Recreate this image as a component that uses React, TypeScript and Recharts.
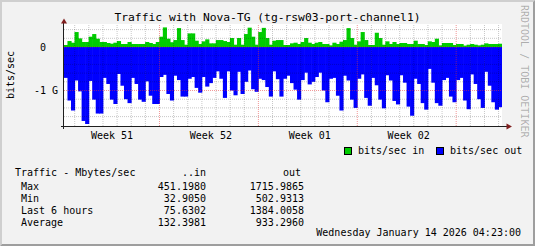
import { BarChart, Bar, XAxis, YAxis, ReferenceLine } from "recharts";

// 6-hour slots over 31 days: Mbit/s in, Gbit/s out (drawn negative)
const inMbit = [
  46, 137, 99, 344, 198, 115, 115, 237, 298, 191, 115, 115, 92, 76, 99, 137, 69, 69, 115, 69,
  69, 69, 69, 115, 92, 69, 115, 237, 451, 191, 110, 160, 435, 160, 53, 313, 313, 145, 69, 130,
  176, 84, 84, 160, 160, 137, 115, 206, 53, 206, 53, 298, 445, 237, 53, 344, 440, 206, 53, 145,
  160, 160, 46, 46, 84, 99, 69, 115, 206, 99, 69, 99, 115, 69, 69, 38, 99, 69, 122, 160,
  435, 206, 53, 130, 344, 160, 46, 46, 328, 206, 53, 130, 69, 115, 69, 92, 92, 69, 69, 145,
  69, 69, 46, 130, 115, 191, 38, 92, 92, 92, 46, 69, 69, 33, 53, 69, 53, 38, 53, 84,
  69, 69, 69, 75.6,
];

const outGbit = [
  0.71, 1.23, 1.46, 0.77, 1.02, 1.7, 1.77, 0.78, 1.21, 1.53, 1.53, 0.71, 0.85, 1.21, 1.31, 0.62, 0.89, 1.2, 1.29, 0.71,
  0.85, 1.21, 1.26, 0.79, 1.12, 1.31, 1.31, 0.69, 0.64, 1.08, 1.23, 0.66, 0.76, 1.14, 1.14, 0.73, 0.69, 0.94, 1.05, 0.69,
  0.91, 0.83, 0.71, 0.56, 0.73, 1.17, 0.56, 1.0, 1.11, 0.57, 1.08, 0.8, 0.54, 0.97, 1.03, 0.73, 0.76, 0.92, 1.14, 0.56,
  0.74, 1.14, 0.73, 0.66, 0.83, 0.98, 1.21, 0.76, 0.59, 0.86, 0.8, 0.69, 0.59, 1.0, 1.27, 0.73, 0.71, 1.12, 1.46, 0.66,
  0.77, 1.21, 1.4, 0.73, 0.63, 1.17, 1.35, 0.71, 0.88, 1.21, 1.41, 0.65, 0.77, 1.24, 1.32, 0.65, 0.82, 1.37, 1.58, 0.73,
  0.85, 1.29, 1.44, 0.503, 0.82, 1.29, 1.35, 0.76, 0.71, 1.14, 1.27, 0.76, 0.71, 1.23, 1.43, 0.63, 0.85, 1.2, 1.4, 0.57,
  0.89, 1.27, 1.44, 1.384,
];

const slotHours = 6;
const spanHours = 744;

const yLabelValues = [0, -1e9];
const yLabels = ["   0  ", "  -1 G"];
const yMinorGrid = [0.4e9, 0.2e9, -0.2e9, -0.4e9, -0.6e9, -0.8e9, -1.2e9, -1.4e9, -1.6e9];
const yDomain = [-1.816e9, 0.529e9];

// hours since graph start
const firstMidnight = 18.2;
const weekStarts = [162.2, 330.2, 498.2, 666.2];
const weekLabelHours = [81.5, 249.5, 417.5, 585.5];
const weekLabels = ["Week 51", "Week 52", "Week 01", "Week 02"];

const statLabels = ["Max", "Min", "Last 6 hours", "Average"];
const statIn = ["451.1980", "32.9050", "75.6302", "132.3981"];
const statOut = ["1715.9865", "502.9313", "1384.0058", "933.2960"];

const rows = inMbit.map((v, i) => ({
  hour: i * slotHours + slotHours / 2,
  in: v * 1e6,
  out: -outGbit[i] * 1e9,
}));

const dayLines: number[] = [];
for (let h = firstMidnight; h < spanHours; h += 24) {
  if (!weekStarts.some(w => Math.abs(w - h) < 0.01)) dayLines.push(h);
}

const PLOT_W = 438;
const SLOT_W = (PLOT_W * slotHours) / spanHours;

const MONO = "DejaVu Sans Mono";
const GRID = "rgba(0,0,0,0.22)";
const MGRID = "rgba(230,50,50,0.5)";

// rrdtool areas have no gaps between steps: draw each slot at full slot width around its centre
function StepBar(props: any) {
  const { x, y, width, height, fill } = props;
  if (x == null || !height) return null;
  const cx = x + (width || 0) / 2;
  const top = Math.min(y, y + height);
  return (
    <rect
      x={cx - SLOT_W / 2 - 0.3}
      y={top}
      width={SLOT_W + 0.6}
      height={Math.abs(height)}
      fill={fill}
    />
  );
}

function YTick(props: any) {
  const { x, y, payload } = props;
  const label = yLabels[yLabelValues.indexOf(payload.value)] ?? "";
  return (
    <text x={x - 6} y={y + 3.6} textAnchor="end" fontFamily={MONO} fontSize={10} fill="#000"
      style={{ whiteSpace: "pre" }}>
      {label}
    </text>
  );
}

function WeekTick(props: any) {
  const { x, y, payload } = props;
  const label = weekLabels[weekLabelHours.indexOf(payload.value)] ?? "";
  return (
    <text x={x} y={y + 13} textAnchor="middle" fontFamily={MONO} fontSize={10} fill="#000">
      {label}
    </text>
  );
}

export default function App() {
  return (
    <div style={{ position: "absolute", left: 0, top: 0, width: 535, height: 246, background: "#F2F2F2" }}>
      <div style={{ position: "absolute", left: 0, top: 0 }}>
        <BarChart
          width={535}
          height={246}
          data={rows}
          margin={{ top: 24, right: 33, bottom: 90, left: 0 }}
          stackOffset="sign"
          barCategoryGap={0}
          barGap={0}
        >
          <rect x={64} y={24} width={PLOT_W} height={102} fill="#fff" />
          <XAxis
            dataKey="hour"
            type="number"
            domain={[0, spanHours]}
            allowDataOverflow
            ticks={weekLabelHours}
            interval={0}
            height={30}
            axisLine={false}
            tickLine={false}
            tickSize={0}
            tickMargin={0}
            tick={<WeekTick />}
          />
          <YAxis
            width={64}
            domain={yDomain}
            allowDataOverflow
            ticks={yLabelValues}
            interval={0}
            axisLine={false}
            tickLine={false}
            tickSize={0}
            tickMargin={0}
            tick={<YTick />}
          />
          <Bar dataKey="in" stackId="t" fill="#00CC00" shape={<StepBar />} isAnimationActive={false} />
          <Bar dataKey="out" stackId="t" fill="#0000FF" shape={<StepBar />} isAnimationActive={false} />
          {yMinorGrid.map(v => (
            <ReferenceLine key={"h" + v} y={v} stroke={GRID} strokeDasharray="1 1" />
          ))}
          {dayLines.map(d => (
            <ReferenceLine key={"d" + d} x={d} stroke={GRID} strokeDasharray="1 1" />
          ))}
          {yLabelValues.map(v => (
            <ReferenceLine key={"m" + v} y={v} stroke={MGRID} strokeDasharray="1 1" />
          ))}
          {weekStarts.map(d => (
            <ReferenceLine key={"w" + d} x={d} stroke={MGRID} strokeDasharray="1 1" />
          ))}
        </BarChart>
      </div>
      <svg width={535} height={246} style={{ position: "absolute", left: 0, top: 0, pointerEvents: "none" }}>
        {/* frame shading */}
        <polygon points="0,0 535,0 533,2 2,2 2,244 0,246" fill="#CFCFCF" />
        <polygon points="535,0 535,246 0,246 2,244 533,244 533,2" fill="#9E9E9E" />
        {/* axes */}
        <line x1={63.5} y1={21} x2={63.5} y2={129} stroke="#1F1F1F" />
        <line x1={61} y1={126.5} x2={507} y2={126.5} stroke="#1F1F1F" />
        <polygon points="61,23.5 67,23.5 64,18.5" fill="#801F1F" />
        <polygon points="506.5,123.5 506.5,129.5 512,126.5" fill="#801F1F" />
        {/* title */}
        <text x={267.5} y={20.5} textAnchor="middle" fontFamily={MONO} fontSize={11.3} fill="#000">
          Traffic with Nova-TG (tg-rsw03-port-channel1)
        </text>
        <text x={14} y={75} transform="rotate(-90 14 75)" textAnchor="middle" fontFamily={MONO} fontSize={10} fill="#000">
          bits/sec
        </text>
        <text x={521} y={5} transform="rotate(90 521 5)" fontFamily={MONO} fontSize={10} fill="rgba(0,0,0,0.3)">
          RRDTOOL / TOBI OETIKER
        </text>
        {/* legend */}
        <rect x={344.5} y={147.5} width={7} height={7} fill="#00CC00" stroke="#000" />
        <text x={358} y={154} fontFamily={MONO} fontSize={10} fill="#000">bits/sec in</text>
        <rect x={436.5} y={147.5} width={7} height={7} fill="#0000FF" stroke="#000" />
        <text x={450} y={154} fontFamily={MONO} fontSize={10} fill="#000">bits/sec out</text>
        {/* summary table */}
        <g fontFamily={MONO} fontSize={10} fill="#000">
          <text x={15} y={176}>Traffic - Mbytes/sec</text>
          <text x={206} y={176} textAnchor="end">..in</text>
          <text x={301} y={176} textAnchor="end">out</text>
          {statLabels.map((l, i) => (
            <g key={l}>
              <text x={21} y={189.5 + i * 12}>{l}</text>
              <text x={206} y={189.5 + i * 12} textAnchor="end">{statIn[i]}</text>
              <text x={304} y={189.5 + i * 12} textAnchor="end">{statOut[i]}</text>
            </g>
          ))}
          <text x={521} y={236} textAnchor="end">Wednesday January 14 2026 04:23:00</text>
        </g>
      </svg>
    </div>
  );
}
